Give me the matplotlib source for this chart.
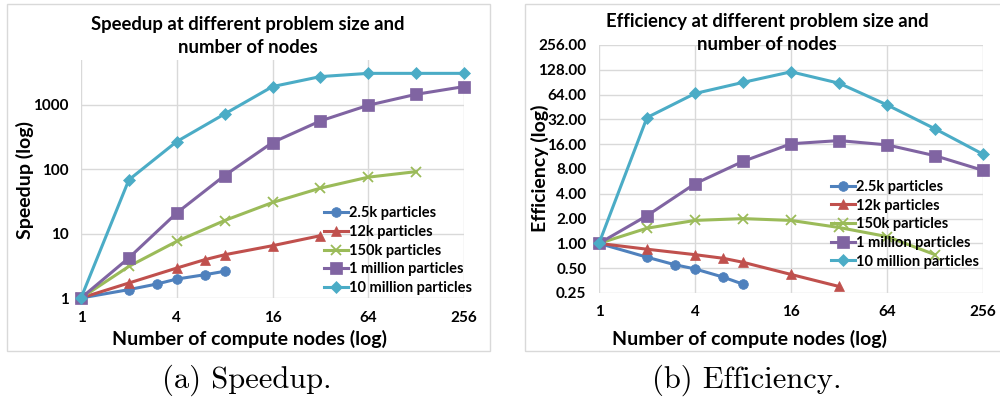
import matplotlib
matplotlib.use('Agg')
from matplotlib import pyplot as plt
from matplotlib.patches import Rectangle
import numpy as np

# number of compute nodes per series
nodes_2k5 = [1, 2, 3, 4, 6, 8]
nodes_12k = [1, 2, 4, 6, 8, 16, 32]
nodes_150k = [1, 2, 4, 8, 16, 32, 64, 128]
nodes_1m = [1, 2, 4, 8, 16, 32, 64, 128, 256]
nodes_10m = [1, 2, 4, 8, 16, 32, 64, 128, 256]

# speedup
speedup_2k5 = [1, 1.35, 1.65, 1.97, 2.3, 2.6]
speedup_12k = [1, 1.71, 2.92, 3.94, 4.7, 6.5, 9.3]
speedup_150k = [1, 3.1, 7.6, 16.0, 30.5, 51, 75.5, 92]
speedup_1m = [1, 4.2, 21, 80, 261, 565, 990, 1465, 1930]
speedup_10m = [1, 68.7, 270, 725, 1930, 2760, 3100, 3100, 3100]

# efficiency
eff_2k5 = [1, 0.68, 0.55, 0.49, 0.39, 0.32]
eff_12k = [1, 0.85, 0.73, 0.66, 0.59, 0.42, 0.30]
eff_150k = [1, 1.53, 1.9, 2.0, 1.9, 1.56, 1.21, 0.73]
eff_1m = [1, 2.17, 5.3, 9.9, 16.2, 17.7, 15.7, 11.6, 7.7]
eff_10m = [1, 33.7, 66, 90, 121, 88, 48, 24.6, 12.1]

labels = ['2.5k particles', '12k particles', '150k particles',
          '1 million particles', '10 million particles']
colors = ['#4F81BD', '#C0504D', '#9BBB59', '#8064A2', '#4BACC6']
markers = ['o', '^', 'x', 's', 'D']
msizes = [7, 7.5, 7.5, 8, 6]

x_ticks = [1, 4, 16, 64, 256]
x_ticklabels = ['1', '4', '16', '64', '256']
sp_ticks = [1, 10, 100, 1000]
sp_ticklabels = ['1', '10', '100', '1000']
eff_ticks = [0.25, 0.5, 1, 2, 4, 8, 16, 32, 64, 128, 256]
eff_ticklabels = ['%.2f' % t for t in eff_ticks]

FONT = 'Lato'
grid_c = '#D9D9D9'

fig = plt.figure(figsize=(10, 4.01), dpi=100)
W, H = 1000, 401

def px_axes(l, r, t, b):
    return fig.add_axes([l / W, 1 - b / H, (r - l) / W, (b - t) / H])

ax1 = px_axes(81, 464, 60, 298)
ax2 = px_axes(599, 983, 45, 293)

# panel frames
fig.patches.append(Rectangle((7 / W, 1 - 351 / H), 483 / W, 347 / H, transform=fig.transFigure,
                             fill=False, edgecolor=grid_c, linewidth=1))
fig.patches.append(Rectangle((525 / W, 1 - 351 / H), 490 / W, 347 / H, transform=fig.transFigure,
                             fill=False, edgecolor=grid_c, linewidth=1))

def style(ax, ymin, ymax, yt, ytl, ybase):
    ax.set_xscale('log', base=2)
    ax.set_yscale('log', base=ybase)
    ax.set_xlim(1, 256)
    ax.set_ylim(ymin, ymax)
    ax.set_xticks(x_ticks)
    ax.set_xticklabels(x_ticklabels)
    ax.set_yticks(yt)
    ax.set_yticklabels(ytl)
    ax.minorticks_off()
    for s in ax.spines.values():
        s.set_visible(False)
    ax.grid(True, color=grid_c, linewidth=1)
    ax.set_axisbelow(True)
    ax.tick_params(length=0, pad=9)
    for t in ax.get_xticklabels() + ax.get_yticklabels():
        t.set_fontfamily(FONT)
        t.set_fontweight('bold')
        t.set_fontsize(11)

series_sp = [(nodes_2k5, speedup_2k5), (nodes_12k, speedup_12k), (nodes_150k, speedup_150k),
             (nodes_1m, speedup_1m), (nodes_10m, speedup_10m)]
series_eff = [(nodes_2k5, eff_2k5), (nodes_12k, eff_12k), (nodes_150k, eff_150k),
              (nodes_1m, eff_1m), (nodes_10m, eff_10m)]

for ax, series in ((ax1, series_sp), (ax2, series_eff)):
    for (x, y), lab, c, m, ms in zip(series, labels, colors, markers, msizes):
        ax.plot(x, y, color=c, marker=m, markersize=ms, linewidth=2.2,
                markeredgewidth=1.3 if m == 'x' else 0.5, markeredgecolor=c,
                label=lab, clip_on=False)

style(ax1, 1, 5000, sp_ticks, sp_ticklabels, 10)
style(ax2, 0.25, 256, eff_ticks, eff_ticklabels, 2)

legfont = {'family': FONT, 'weight': 'bold', 'size': 10.5}
ax1.legend(loc='upper left', bbox_to_anchor=(0.635, 0.385), frameon=False, prop=legfont,
           handlelength=1.6, handletextpad=0.1, labelspacing=0.32, borderpad=0, borderaxespad=0)
ax2.legend(loc='upper left', bbox_to_anchor=(0.605, 0.456), frameon=False, prop=legfont,
           handlelength=1.6, handletextpad=0.1, labelspacing=0.32, borderpad=0, borderaxespad=0)

title_kw = dict(fontfamily=FONT, fontweight='bold', fontsize=13.3, ha='center', va='center',
                linespacing=1.4)
fig.text(248 / W, 1 - 36 / H, 'Speedup at different problem size and\nnumber of nodes', **title_kw)
fig.text(767 / W, 1 - 33 / H, 'Efficiency at different problem size and\nnumber of nodes', **title_kw)

lab_kw = dict(fontfamily=FONT, fontweight='bold', fontsize=14, ha='center', va='center')
fig.text(25 / W, 1 - 180 / H, 'Speedup (log)', rotation=90, **lab_kw)
fig.text(540 / W, 1 - 168 / H, 'Efficiency (log)', rotation=90, **lab_kw)
fig.text(250 / W, 1 - 339 / H, 'Number of compute nodes (log)', **lab_kw)
fig.text(750 / W, 1 - 339 / H, 'Number of compute nodes (log)', **lab_kw)

cap_kw = dict(fontfamily='cmr10', fontsize=22, ha='center', va='center')
fig.text(247 / W, 1 - 380 / H, '(a) Speedup.', **cap_kw)
fig.text(747 / W, 1 - 380 / H, '(b) Efficiency.', **cap_kw)

fig.savefig('out.png', dpi=100)
